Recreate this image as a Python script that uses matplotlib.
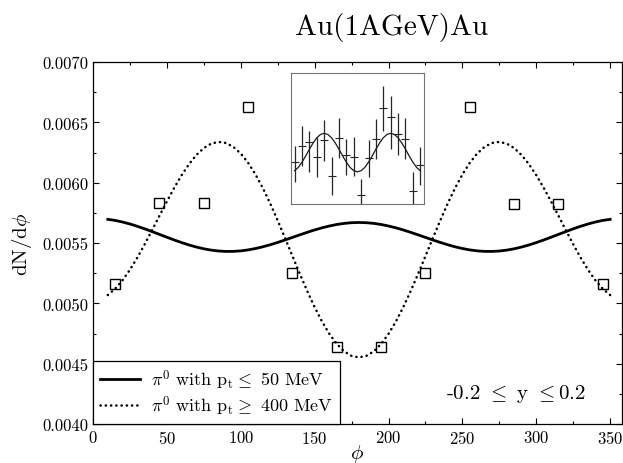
import numpy as np
import matplotlib
matplotlib.use('Agg')
import matplotlib.pyplot as plt
from matplotlib.ticker import MultipleLocator, FormatStrFormatter

plt.rcParams['font.family'] = 'cmr10'
plt.rcParams['mathtext.fontset'] = 'cm'
plt.rcParams['axes.formatter.use_mathtext'] = True

## data
# pion azimuthal distributions (phi in degrees)
phi_curve = list(range(10, 355, 5))
soft_half = [5.6962, 5.6873, 5.6740, 5.6576, 5.6385, 5.6174, 5.5947, 5.5714,
             5.5479, 5.5250, 5.5034, 5.4837, 5.4664, 5.4521, 5.4411, 5.4338,
             5.4303, 5.4307, 5.4350, 5.4430, 5.4544, 5.4689, 5.4859, 5.5050,
             5.5254, 5.5466, 5.5679, 5.5887, 5.6082, 5.6259, 5.6411, 5.6536,
             5.6627, 5.6683, 5.6702]
hard_half = [5.0688, 5.1211, 5.1919, 5.2788, 5.3792, 5.4899, 5.6068, 5.7266,
             5.8450, 5.9582, 6.0625, 6.1542, 6.2299, 6.2871, 6.3237, 6.3380,
             6.3290, 6.2966, 6.2415, 6.1645, 6.0677, 5.9538, 5.8255, 5.6864,
             5.5404, 5.3914, 5.2438, 5.1015, 4.9688, 4.8492, 4.7465, 4.6633,
             4.6020, 4.5646, 4.5520]
# 10..180 then mirrored back down to 350
soft_pt = [v * 1e-3 for v in soft_half + soft_half[-2::-1]]
hard_pt = [v * 1e-3 for v in hard_half + hard_half[-2::-1]]

phi_boxes = [15, 45, 75, 105, 135, 165, 195, 225, 255, 285, 315, 345]
dn_boxes = [0.00516, 0.00583, 0.00583, 0.00663, 0.005255, 0.00464,
            0.00464, 0.005255, 0.00663, 0.00582, 0.00582, 0.00516]

# inset: measured distribution with fit
phi_ins = [10, 30, 50, 70, 90, 110, 130, 150, 170, 190, 210, 230, 250,
           270, 290, 310, 330, 350]
val_ins = [0.318, 0.445, 0.473, 0.359, 0.489, 0.211, 0.504, 0.374, 0.363,
           0.069, 0.349, 0.496, 0.733, 0.664, 0.534, 0.500, 0.099, 0.298]
top_ins = [0.445, 0.593, 0.560, 0.509, 0.644, 0.356, 0.654, 0.496, 0.509,
           0.191, 0.489, 0.649, 0.903, 0.827, 0.695, 0.656, 0.242, 0.433]
bot_ins = [0.166, 0.288, 0.242, 0.204, 0.331, 0.069, 0.349, 0.221, 0.216,
           0.000, 0.204, 0.344, 0.560, 0.420, 0.374, 0.344, 0.000, 0.147]
phi_fit = list(range(10, 360, 10))
fit_half = [0.255, 0.280, 0.320, 0.367, 0.419, 0.466, 0.506, 0.531, 0.540,
            0.531, 0.506, 0.466, 0.419, 0.367, 0.320, 0.280, 0.255, 0.246]
fit_ins = fit_half + fit_half[-2::-1]

## plotting
fig = plt.figure(figsize=(6.23, 4.64), dpi=100)
ax = fig.add_axes([0.1493, 0.084, 0.849, 0.7802])

ax.plot(phi_curve, soft_pt, 'k-', lw=2.0,
        label=r'$\pi^0$ with p$_{\rm t}\leq$ 50 MeV')
ax.plot(phi_curve, hard_pt, color='k', lw=1.8, linestyle=(0, (0.1, 2.0)),
        dash_capstyle='round',
        label=r'$\pi^0$ with p$_{\rm t}\geq$ 400 MeV')
ax.plot(phi_boxes, dn_boxes, 's', ms=7, mfc='none', mec='k', mew=1.0)

ax.set_xlim(0, 358)
ax.set_ylim(0.0040, 0.0070)
ax.xaxis.set_major_locator(MultipleLocator(50))
ax.xaxis.set_minor_locator(MultipleLocator(25))
ax.yaxis.set_major_locator(MultipleLocator(0.0005))
ax.yaxis.set_minor_locator(MultipleLocator(0.00025))
ax.yaxis.set_major_formatter(FormatStrFormatter('%.4f'))
ax.tick_params(which='both', direction='in', top=True, right=True,
               labelsize=12, length=4, width=0.8)
ax.tick_params(which='minor', length=2.5)
for s in ax.spines.values():
    s.set_linewidth(0.9)

ax.set_xlabel(r'$\phi$', fontsize=15, labelpad=-3)
ax.set_ylabel(r'dN/d$\phi$', fontsize=15, labelpad=6)
fig.text(0.628, 0.94, 'Au(1AGeV)Au', fontsize=21, ha='center', va='center')
ax.text(0.80, 0.085, '-0.2 $\\leq$ y $\\leq$0.2', transform=ax.transAxes,
        fontsize=15, ha='center', va='center')

leg = ax.legend(loc='lower left', bbox_to_anchor=(0, 0), borderaxespad=0,
                fancybox=False, edgecolor='k', framealpha=1, fontsize=13,
                handlelength=2.2, handletextpad=0.6, borderpad=0.4,
                labelspacing=0.1)
leg.get_frame().set_linewidth(0.9)

# inset with the measured distribution
ins = fig.add_axes([0.467, 0.558, 0.2135, 0.2825])
yerr = [[v - b for v, b in zip(val_ins, bot_ins)],
        [t - v for v, t in zip(val_ins, top_ins)]]
ins.errorbar(phi_ins, val_ins, yerr=yerr, fmt='_', color='0.15', ms=6,
             mew=0.8, elinewidth=0.9, capsize=0)
ins.plot(phi_fit, fit_ins, color='0.1', lw=0.9)
ins.set_xlim(0, 360)
ins.set_ylim(0, 1)
ins.set_xticks([])
ins.set_yticks([])
for s in ins.spines.values():
    s.set_linewidth(0.8)
    s.set_color('0.45')

fig.savefig('out.png', dpi=100)
